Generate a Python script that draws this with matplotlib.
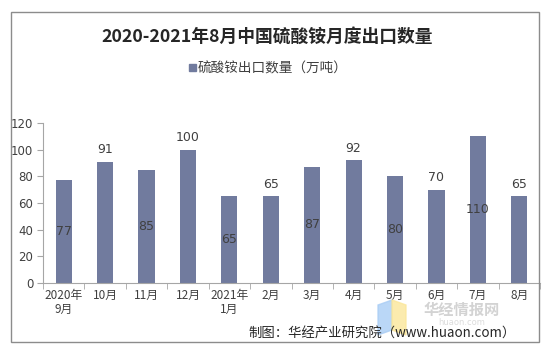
"""Monthly ammonium sulfate exports bar chart, 2020-09 to 2021-08."""

import matplotlib

matplotlib.use("Agg")
from matplotlib import pyplot as plt
from matplotlib.patches import Polygon, Rectangle
import numpy as np

plt.rcParams["font.family"] = ["Noto Sans CJK SC", "DejaVu Sans"]

TITLE = "2020-2021年8月中国硫酸铵月度出口数量"
SERIES_NAME = "硫酸铵出口数量（万吨）"
MONTHS = ["2020年\n9月", "10月", "11月", "12月", "2021年\n1月", "2月",
          "3月", "4月", "5月", "6月", "7月", "8月"]
EXPORTS = [77, 91, 85, 100, 65, 65, 87, 92, 80, 70, 110, 65]
Y_TICKS = [0, 20, 40, 60, 80, 100, 120]
SOURCE = "制图：华经产业研究院（www.huaon.com）"

BAR_COLOR = "#717b9e"
TEXT_COLOR = "#404040"
AXIS_COLOR = "#a6a6a6"


def main() -> None:
    fig = plt.figure(figsize=(5.45, 3.52), dpi=100)
    fig.patch.set_facecolor("white")

    # outer frame
    fig.add_artist(Rectangle((11 / 545, 1 - 342 / 352), 528 / 545, 330 / 352,
                             transform=fig.transFigure, fill=False,
                             edgecolor="#8c8c8c", linewidth=1.0))

    ax = fig.add_axes([43 / 545, 1 - 283 / 352, 497 / 545, 160 / 352])
    x = np.arange(len(MONTHS))
    bars = ax.bar(x, EXPORTS, width=0.39, color=BAR_COLOR, zorder=2)

    for i, (bar, value) in enumerate(zip(bars, EXPORTS)):
        cx = bar.get_x() + bar.get_width() / 2
        if i % 2 == 0:
            ax.text(cx, value / 2, str(value), ha="center", va="center",
                    fontsize=9, color=TEXT_COLOR, family="DejaVu Sans")
        else:
            ax.text(cx, value + 4, str(value), ha="center", va="bottom",
                    fontsize=9, color=TEXT_COLOR, family="DejaVu Sans")

    ax.set_xlim(-0.5, len(MONTHS) - 0.5)
    ax.set_ylim(0, 120)
    ax.set_yticks(Y_TICKS)
    ax.set_yticklabels([str(v) for v in Y_TICKS], family="DejaVu Sans",
                       fontsize=8.5, color=TEXT_COLOR)
    ax.set_xticks(x)
    ax.set_xticklabels(MONTHS, fontsize=8.5, color=TEXT_COLOR, linespacing=1.1)
    ax.set_xticks(np.arange(-0.5, len(MONTHS)), minor=True)
    ax.tick_params(axis="x", which="major", length=0, pad=4)
    ax.tick_params(axis="x", which="minor", length=4, color=AXIS_COLOR)
    ax.tick_params(axis="y", length=4, color=AXIS_COLOR, pad=3)

    for side in ("top", "right"):
        ax.spines[side].set_visible(False)
    for side in ("left", "bottom"):
        ax.spines[side].set_color(AXIS_COLOR)

    fig.text(0.49, 1 - 37 / 352, TITLE, ha="center", va="center",
             fontsize=12.8, fontweight="bold", color="#262626")

    # legend
    fig.add_artist(Rectangle((189 / 545, 1 - 71 / 352), 7 / 545, 7 / 352,
                             transform=fig.transFigure, color=BAR_COLOR))
    fig.text(198 / 545, 1 - 68 / 352, SERIES_NAME, ha="left", va="center",
             fontsize=9.8, color=TEXT_COLOR)

    # watermark
    fig.add_artist(Polygon([(378 / 545, 1 - 305 / 352), (392 / 545, 1 - 300 / 352),
                            (392 / 545, 1 - 330 / 352), (378 / 545, 1 - 335 / 352)],
                           closed=True, transform=fig.transFigure,
                           color="#a9cdf5", alpha=0.8))
    fig.add_artist(Polygon([(392 / 545, 1 - 300 / 352), (406 / 545, 1 - 305 / 352),
                            (406 / 545, 1 - 335 / 352), (392 / 545, 1 - 330 / 352)],
                           closed=True, transform=fig.transFigure,
                           color="#fbe79a", alpha=0.8))
    fig.text(462 / 545, 1 - 310 / 352, "华经情报网", ha="center", va="center",
             fontsize=11, fontweight="bold", color="#c8c8c8", alpha=0.8)
    fig.text(462 / 545, 1 - 322.5 / 352, "huaon.com", ha="center", va="center",
             fontsize=6, color="#dcdcdc", family="DejaVu Sans")

    fig.text(516 / 545, 1 - 334 / 352, SOURCE, ha="right", va="center",
             fontsize=9.6, color="#262626")

    fig.savefig("out.png", dpi=100)
    plt.close(fig)


if __name__ == "__main__":
    main()
